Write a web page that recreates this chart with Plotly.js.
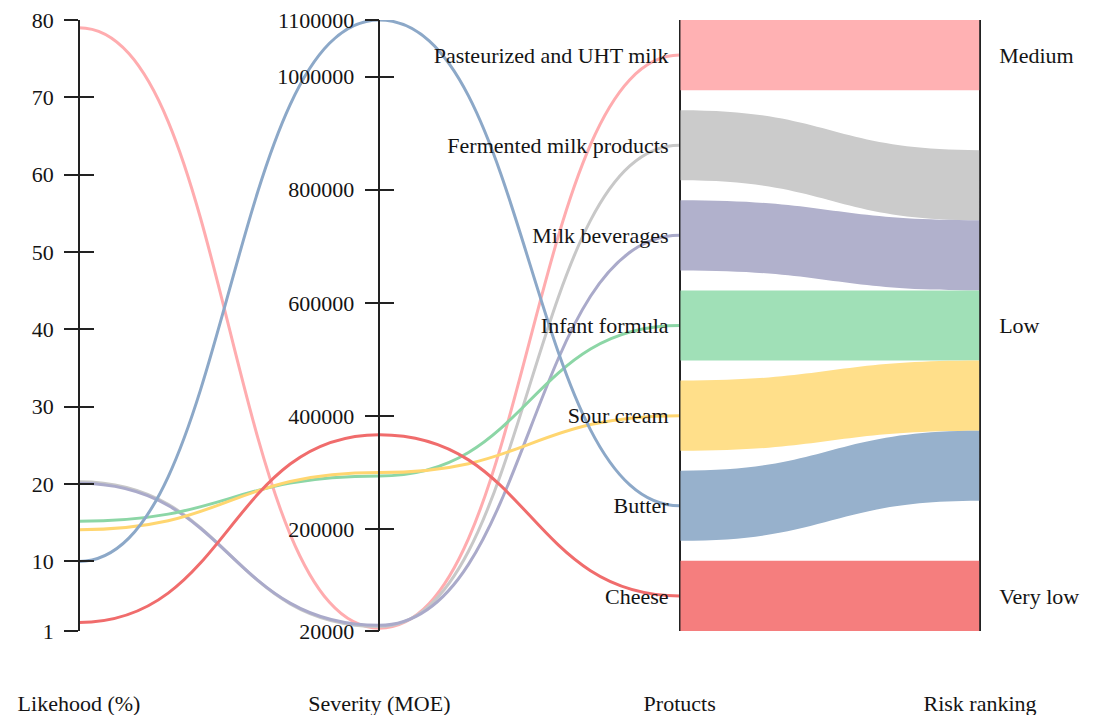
<!DOCTYPE html>
<html><head><meta charset="utf-8">
<script src="https://cdn.plot.ly/plotly-3.0.1.min.js"></script>
<style>html,body{margin:0;padding:0;background:#fff}#chart{width:1094px;height:715px}</style>
</head><body><div id="chart"></div>
<script>
// ---- data ----
const products = ['Pasteurized and UHT milk','Fermented milk products','Milk beverages','Infant formula','Sour cream','Butter','Cheese'];
const likelihood = [79, 20.3, 20.1, 15.2, 14.1, 10, 2.1];
const severity = [25000, 28000, 30000, 294000, 300000, 1100000, 367000];
const productRisk = ['Medium','Low','Low','Low','Low','Low','Very low'];
const riskLevels = ['Medium','Low','Very low'];
const dimensionNames = ['Likehood (%)','Severity (MOE)','Protucts','Risk ranking'];
const likelihoodTicks = [1,10,20,30,40,50,60,70,80];
const severityTicks = [20000,200000,400000,600000,800000,1000000,1100000];
const likelihoodRange = [1,80];
const severityRange = [20000,1100000];

// ---- styles ----
const ribbonColors = ['rgb(255,177,179)','rgb(203,203,203)','rgb(177,177,204)','rgb(160,224,183)','rgb(255,223,138)','rgb(151,177,204)','rgb(245,126,126)'];
const lineColors = ['rgb(255,172,175)','rgb(200,200,200)','rgb(170,170,202)','rgb(140,214,166)','rgb(255,214,112)','rgb(140,168,200)','rgb(240,108,108)'];
const FONT = 'Liberation Serif, Times New Roman, serif';
const M = {l:79, r:114, t:20, b:84};
const W = 1094, H = 715;
const plotH = H - M.t - M.b;
const nodePad = 20;

// ---- layout computations ----
const n = products.length;
const nodeH = (plotH - (n-1)*nodePad)/n;
const prodCenter = products.map((p,i)=> (nodeH/2 + i*(nodeH+nodePad))/plotH); // from top
const riskCounts = riskLevels.map(r=>productRisk.filter(x=>x===r).length);
const riskGap = (plotH - riskCounts.reduce((a,b)=>a+b,0)*nodeH)/(riskLevels.length-1);
let acc = 0;
const riskCenter = riskCounts.map(c=>{const top=acc; acc += c*nodeH + riskGap; return (top + c*nodeH/2)/plotH;});

const norm = (v, r) => (v - r[0])/(r[1]-r[0]);
function bump(x0,y0,x1,y1){const xm=(x0+x1)/2; return `C${xm},${y0} ${xm},${y1} ${x1},${y1}`;}

const shapes = products.map((p,i)=>{
  const a = norm(likelihood[i], likelihoodRange);
  const b = norm(severity[i], severityRange);
  const c = 1 - prodCenter[i];
  return {type:'path', xref:'x', yref:'y', layer:'below',
    path:`M0,${a} ${bump(0,a,1,b)} ${bump(1,b,2,c)}`,
    line:{color:lineColors[i], width:3}};
});

const traces = [];
function pts(xv, yv, ax, label, txt){
  return {type:'scatter', mode:'markers', x:yv.map(()=>xv), y:yv, yaxis:ax,
    marker:{size:8, opacity:0}, text:txt, hovertemplate:label, showlegend:false};
}
// data points anchored on their own axes (invisible markers, used for hover)
traces.push(pts(0, likelihood, 'y2', '%{text}<br>Likelihood: %{y}%<extra></extra>', products));
traces.push(pts(0, likelihood, 'y3', '%{text}<extra></extra>', products));
traces.push(pts(1, severity, 'y4', '%{text}<br>MOE: %{y}<extra></extra>', products));
traces.push(pts(1, severity, 'y5', '%{text}<extra></extra>', products));
traces.push(pts(2, prodCenter.map(c=>1-c), 'y6', '%{text}<extra></extra>', products));
traces.push(pts(3, riskCenter.map(c=>1-c), 'y7', '%{text}<extra></extra>', riskLevels));

traces.push({type:'sankey', arrangement:'fixed', domain:{x:[2/3,1], y:[0,1]},
  node:{pad:nodePad, thickness:1,
    x:[...products.map(()=>0.001), ...riskLevels.map(()=>0.999)],
    y:[...prodCenter, ...riskCenter],
    color:'rgba(0,0,0,0)', line:{width:0},
    customdata:[...products, ...riskLevels], hovertemplate:'%{customdata}<extra></extra>'},
  link:{source:products.map((p,i)=>i), target:productRisk.map(r=>n+riskLevels.indexOf(r)),
    value:products.map(()=>1), color:ribbonColors,
    hovertemplate:'%{source.customdata} → %{target.customdata}<extra></extra>'}
});

const tickFont = {family:FONT, size:22, color:'#141414'};
const baseY = {showgrid:false, zeroline:false, fixedrange:true};
const layout = {
  width:W, height:H, margin:M, paper_bgcolor:'#fff', plot_bgcolor:'rgba(0,0,0,0)',
  showlegend:false, hovermode:'closest',
  xaxis:{range:[0,3], tickvals:[0,1,2,3], ticktext:dimensionNames, showgrid:false, zeroline:false,
    showline:false, ticks:'', tickfont:{family:FONT, size:22, color:'#141414'}, ticklabelstandoff:57, fixedrange:true},
  yaxis:{...baseY, range:[0,1], visible:false},
  yaxis2:{...baseY, overlaying:'y', anchor:'free', position:0, side:'left', range:likelihoodRange,
    tickvals:likelihoodTicks, ticks:'outside', ticklen:14, tickwidth:1.5, tickcolor:'#222',
    showline:true, linecolor:'#222', linewidth:1.5, tickfont:tickFont, ticklabelstandoff:6},
  yaxis3:{...baseY, overlaying:'y', anchor:'free', position:0, side:'left', range:likelihoodRange,
    tickvals:likelihoodTicks, ticks:'inside', ticklen:14, tickwidth:1.5, tickcolor:'#222',
    showline:false, showticklabels:false},
  yaxis4:{...baseY, overlaying:'y', anchor:'free', position:1/3, side:'left', range:severityRange,
    tickvals:severityTicks, tickformat:'d', ticks:'outside', ticklen:14, tickwidth:1.5, tickcolor:'#222',
    showline:true, linecolor:'#222', linewidth:1.5, tickfont:tickFont, ticklabelstandoff:6},
  yaxis5:{...baseY, overlaying:'y', anchor:'free', position:1/3, side:'left', range:severityRange,
    tickvals:severityTicks, ticks:'inside', ticklen:14, tickwidth:1.5, tickcolor:'#222',
    showline:false, showticklabels:false},
  yaxis6:{...baseY, overlaying:'y', anchor:'free', position:2/3, side:'left', range:[0,1],
    tickvals:prodCenter.map(c=>1-c), ticktext:products, ticks:'',
    showline:true, linecolor:'#222', linewidth:1.5, tickfont:tickFont, ticklabelstandoff:6},
  yaxis7:{...baseY, overlaying:'y', anchor:'free', position:1, side:'right', range:[0,1],
    tickvals:riskCenter.map(c=>1-c), ticktext:riskLevels, ticks:'',
    showline:true, linecolor:'#222', linewidth:1.5, tickfont:tickFont, ticklabelstandoff:14},
  shapes:shapes
};
Plotly.newPlot('chart', traces, layout, {displayModeBar:false});
</script></body></html>
